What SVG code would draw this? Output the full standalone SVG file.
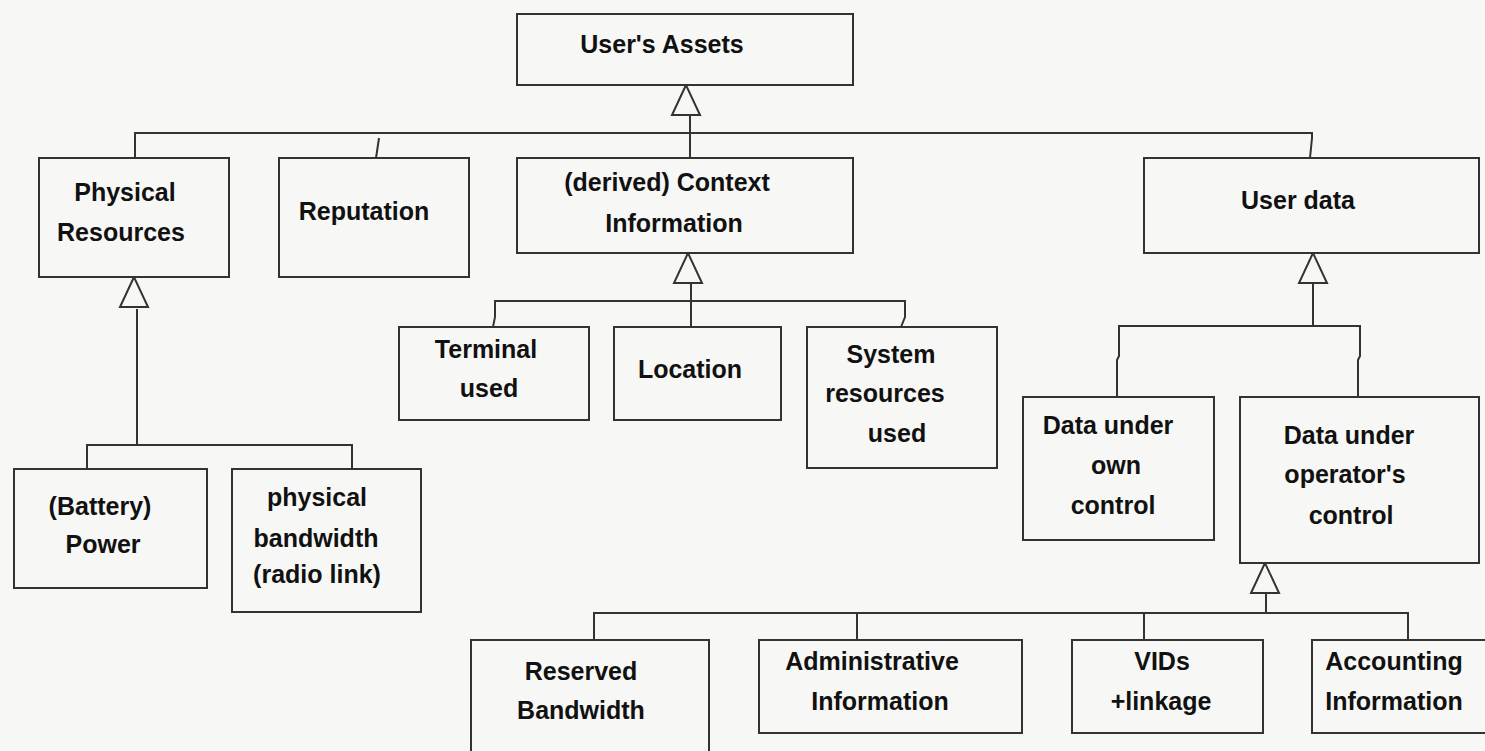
<svg xmlns="http://www.w3.org/2000/svg" width="1485" height="751" viewBox="0 0 1485 751" xmlns:xlink="http://www.w3.org/1999/xlink">
<style>
.bg{fill:#f7f7f5}
.box{fill:#f7f7f5;stroke:#333;stroke-width:2}
.ln{fill:none;stroke:#333;stroke-width:2}
.tri{fill:#f7f7f5;stroke:#333;stroke-width:2;stroke-linejoin:miter}
text{font-family:"Liberation Sans",Arial,sans-serif;font-weight:bold;font-size:25px;fill:#111;text-anchor:middle}
</style>
<defs>
<path id="tri" class="tri" d="M0,0 L-14,30 L14,30 Z"/>
</defs>
<rect class="bg" x="0" y="0" width="1485" height="751"/>
<g id="connectors">
<path class="ln" d="M690,115 V158"/>
<path class="ln" d="M135,158 V133 H1312 V138 L1310,158"/>
<path class="ln" d="M379,138 L376,158"/>
<use xlink:href="#tri" x="686" y="85"/>
<path class="ln" d="M137,309 V445"/>
<path class="ln" d="M87,469 V445 H352 V469"/>
<use xlink:href="#tri" x="134" y="277"/>
<path class="ln" d="M691,283 V327"/>
<path class="ln" d="M493,327 L495,317 V301 H905 V317 L901,327"/>
<use xlink:href="#tri" x="688" y="253"/>
<path class="ln" d="M1313,284 V326"/>
<path class="ln" d="M1117,397 V360 L1119,356 V326 H1360 V356 L1358,360 V397"/>
<use xlink:href="#tri" x="1313" y="253"/>
<path class="ln" d="M1266,593 V613"/>
<path class="ln" d="M594,640 V613 H1408 V640 M857,613 V640 M1144,613 V640"/>
<use xlink:href="#tri" x="1265" y="563"/>
</g>
<g id="users-assets"><rect class="box" x="517" y="14" width="336" height="71"/><text x="662" y="53">User's Assets</text></g>
<g id="physical-resources"><rect class="box" x="39" y="158" width="190" height="119"/><text x="125" y="201">Physical</text><text x="121" y="241">Resources</text></g>
<g id="reputation"><rect class="box" x="279" y="158" width="190" height="119"/><text x="364" y="220">Reputation</text></g>
<g id="context-information"><rect class="box" x="517" y="158" width="336" height="95"/><text x="667" y="191">(derived) Context</text><text x="674" y="232">Information</text></g>
<g id="user-data"><rect class="box" x="1144" y="158" width="335" height="95"/><text x="1298" y="209">User data</text></g>
<g id="terminal-used"><rect class="box" x="399" y="327" width="190" height="93"/><text x="486" y="358">Terminal</text><text x="489" y="397">used</text></g>
<g id="location"><rect class="box" x="614" y="327" width="167" height="93"/><text x="690" y="378">Location</text></g>
<g id="system-resources-used"><rect class="box" x="807" y="327" width="190" height="141"/><text x="891" y="363">System</text><text x="885" y="402">resources</text><text x="897" y="442">used</text></g>
<g id="battery-power"><rect class="box" x="14" y="469" width="193" height="119"/><text x="100" y="515">(Battery)</text><text x="103" y="553">Power</text></g>
<g id="physical-bandwidth"><rect class="box" x="232" y="469" width="189" height="143"/><text x="317" y="506">physical</text><text x="316" y="547">bandwidth</text><text x="317" y="583">(radio link)</text></g>
<g id="data-own-control"><rect class="box" x="1023" y="397" width="191" height="143"/><text x="1108" y="434">Data under</text><text x="1116" y="474">own</text><text x="1113" y="514">control</text></g>
<g id="data-operator-control"><rect class="box" x="1240" y="397" width="239" height="166"/><text x="1349" y="444">Data under</text><text x="1345" y="483">operator's</text><text x="1351" y="524">control</text></g>
<g id="reserved-bandwidth"><rect class="box" x="471" y="640" width="238" height="130"/><text x="581" y="680">Reserved</text><text x="581" y="719">Bandwidth</text></g>
<g id="administrative-information"><rect class="box" x="759" y="640" width="263" height="93"/><text x="872" y="670">Administrative</text><text x="880" y="710">Information</text></g>
<g id="vids-linkage"><rect class="box" x="1072" y="640" width="191" height="93"/><text x="1162" y="670">VIDs</text><text x="1161" y="710">+linkage</text></g>
<g id="accounting-information"><rect class="box" x="1312" y="640" width="190" height="93"/><text x="1394" y="670">Accounting</text><text x="1394" y="710">Information</text></g>
</svg>
